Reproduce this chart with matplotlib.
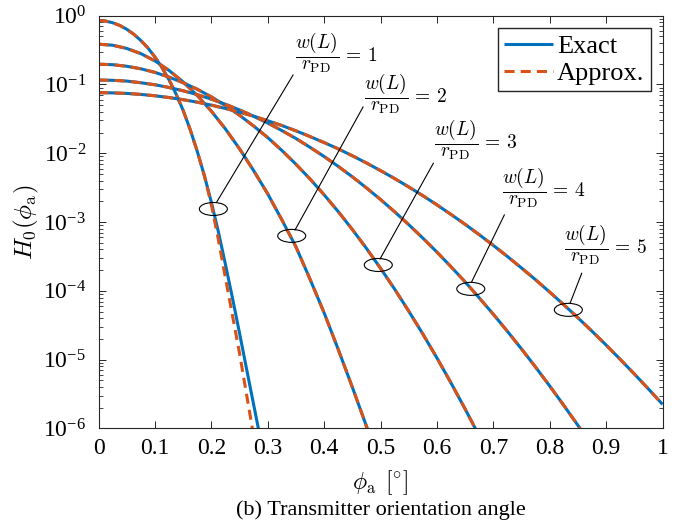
import numpy as np
import matplotlib
matplotlib.use('Agg')
import matplotlib.pyplot as plt
from matplotlib.patches import Ellipse
from matplotlib.transforms import ScaledTranslation
from matplotlib.ticker import LogLocator, NullFormatter

plt.rcParams['font.family'] = 'serif'
plt.rcParams['font.serif'] = ['Liberation Serif', 'DejaVu Serif']
plt.rcParams['mathtext.fontset'] = 'cm'

# w(L)/r_PD = 1 (exact and approx. split in the tail)
phi1 = [0, 0.0125, 0.025, 0.0375, 0.05, 0.0625, 0.075, 0.0875, 0.1, 0.1125, 0.125, 0.1375,
        0.15, 0.1625, 0.175, 0.1875, 0.2, 0.2125, 0.225, 0.2375, 0.25, 0.2625, 0.275, 0.2875]
exact1 = [0.849, 0.834, 0.790, 0.722, 0.635, 0.537, 0.436, 0.340, 0.251, 0.176, 0.117, 0.0726,
          0.0421, 0.0221, 0.0107, 4.78e-3, 1.95e-3, 7.22e-4, 2.43e-4, 7.87e-5, 2.43e-5, 7.32e-6,
          2.23e-6, 6.75e-7]
phi1a = [0, 0.0125, 0.025, 0.0375, 0.05, 0.0625, 0.075, 0.0875, 0.1, 0.1125, 0.125, 0.1375,
         0.15, 0.1625, 0.175, 0.1875, 0.2, 0.2125, 0.225, 0.2375, 0.25, 0.2625, 0.275]
approx1 = [0.849, 0.834, 0.790, 0.722, 0.635, 0.537, 0.436, 0.340, 0.251, 0.176, 0.117, 0.0726,
           0.0421, 0.0221, 0.0107, 4.78e-3, 1.80e-3, 5.56e-4, 1.55e-4, 4.37e-5, 1.24e-5, 3.11e-6,
           7.78e-7]

# w(L)/r_PD = 2
phi2 = [0, 0.025, 0.05, 0.075, 0.1, 0.125, 0.15, 0.175, 0.2, 0.225, 0.25, 0.275, 0.3,
        0.325, 0.35, 0.375, 0.4, 0.425, 0.45, 0.475, 0.5]
exact2 = [0.385, 0.372, 0.334, 0.281, 0.220, 0.160, 0.109, 0.0692, 0.0410, 0.0226, 0.0116,
          5.60e-3, 2.57e-3, 1.08e-3, 4.37e-4, 1.48e-4, 4.79e-5, 1.41e-5, 3.98e-6, 1.08e-6, 2.63e-7]
approx2 = [0.385, 0.372, 0.334, 0.281, 0.220, 0.160, 0.109, 0.0692, 0.0410, 0.0226, 0.0116,
           5.60e-3, 2.57e-3, 1.08e-3, 4.37e-4, 1.48e-4, 4.79e-5, 1.41e-5, 3.98e-6, 1.08e-6, 2.63e-7]

# w(L)/r_PD = 3
phi3 = [0, 0.025, 0.05, 0.075, 0.1, 0.125, 0.15, 0.175, 0.2, 0.225, 0.25, 0.275, 0.3, 0.325,
        0.35, 0.375, 0.4, 0.425, 0.45, 0.475, 0.5, 0.525, 0.55, 0.575, 0.6, 0.625, 0.65,
        0.675, 0.7]
exact3 = [0.197, 0.194, 0.184, 0.169, 0.150, 0.128, 0.106, 0.0853, 0.0661, 0.0494, 0.0357,
          0.0249, 0.0169, 0.0110, 6.93e-3, 4.23e-3, 2.49e-3, 1.42e-3, 7.80e-4, 4.15e-4,
          2.13e-4, 1.06e-4, 5.08e-5, 2.36e-5, 1.06e-5, 4.58e-6, 1.92e-6, 7.76e-7, 3.04e-7]
approx3 = [0.197, 0.194, 0.184, 0.169, 0.150, 0.128, 0.106, 0.0853, 0.0661, 0.0494, 0.0357,
           0.0249, 0.0169, 0.0110, 6.93e-3, 4.23e-3, 2.49e-3, 1.42e-3, 7.80e-4, 4.15e-4,
           2.13e-4, 1.06e-4, 5.08e-5, 2.36e-5, 1.06e-5, 4.58e-6, 1.92e-6, 7.76e-7, 3.04e-7]

# w(L)/r_PD = 4
phi4 = [0, 0.025, 0.05, 0.075, 0.1, 0.125, 0.15, 0.175, 0.2, 0.225, 0.25, 0.275, 0.3, 0.325,
        0.35, 0.375, 0.4, 0.425, 0.45, 0.475, 0.5, 0.525, 0.55, 0.575, 0.6, 0.625, 0.65,
        0.675, 0.7, 0.725, 0.75, 0.775, 0.8, 0.825, 0.85, 0.875]
exact4 = [0.116, 0.115, 0.112, 0.106, 0.0990, 0.0904, 0.0810, 0.0712, 0.0612, 0.0516, 0.0427,
          0.0346, 0.0275, 0.0214, 0.0164, 0.0122, 8.97e-3, 6.45e-3, 4.55e-3, 3.14e-3, 2.13e-3,
          1.41e-3, 9.18e-4, 5.85e-4, 3.66e-4, 2.24e-4, 1.35e-4, 7.91e-5, 4.57e-5, 2.58e-5,
          1.43e-5, 7.77e-6, 4.14e-6, 2.16e-6, 1.11e-6, 5.54e-7]
approx4 = [0.116, 0.115, 0.112, 0.106, 0.0990, 0.0904, 0.0810, 0.0712, 0.0612, 0.0516, 0.0427,
           0.0346, 0.0275, 0.0214, 0.0164, 0.0122, 8.97e-3, 6.45e-3, 4.55e-3, 3.14e-3, 2.13e-3,
           1.41e-3, 9.18e-4, 5.85e-4, 3.66e-4, 2.24e-4, 1.35e-4, 7.91e-5, 4.57e-5, 2.58e-5,
           1.43e-5, 7.77e-6, 4.14e-6, 2.16e-6, 1.11e-6, 5.54e-7]

# w(L)/r_PD = 5
phi5 = [0, 0.025, 0.05, 0.075, 0.1, 0.125, 0.15, 0.175, 0.2, 0.225, 0.25, 0.275, 0.3, 0.325,
        0.35, 0.375, 0.4, 0.425, 0.45, 0.475, 0.5, 0.525, 0.55, 0.575, 0.6, 0.625, 0.65,
        0.675, 0.7, 0.725, 0.75, 0.775, 0.8, 0.825, 0.85, 0.875, 0.9, 0.925, 0.95, 0.975, 1.0]
exact5 = [0.0760, 0.0755, 0.0741, 0.0717, 0.0685, 0.0646, 0.0601, 0.0553, 0.0501, 0.0448,
          0.0396, 0.0346, 0.0297, 0.0253, 0.0212, 0.0175, 0.0143, 0.0116, 9.20e-3, 7.23e-3,
          5.60e-3, 4.29e-3, 3.24e-3, 2.42e-3, 1.78e-3, 1.29e-3, 9.27e-4, 6.56e-4, 4.58e-4,
          3.16e-4, 2.15e-4, 1.45e-4, 9.59e-5, 6.28e-5, 4.06e-5, 2.59e-5, 1.63e-5, 1.01e-5,
          6.20e-6, 3.75e-6, 2.24e-6]
approx5 = [0.0760, 0.0755, 0.0741, 0.0717, 0.0685, 0.0646, 0.0601, 0.0553, 0.0501, 0.0448,
           0.0396, 0.0346, 0.0297, 0.0253, 0.0212, 0.0175, 0.0143, 0.0116, 9.20e-3, 7.23e-3,
           5.60e-3, 4.29e-3, 3.24e-3, 2.42e-3, 1.78e-3, 1.29e-3, 9.27e-4, 6.56e-4, 4.58e-4,
           3.16e-4, 2.15e-4, 1.45e-4, 9.59e-5, 6.28e-5, 4.06e-5, 2.59e-5, 1.63e-5, 1.01e-5,
           6.20e-6, 3.75e-6, 2.24e-6]

ratios = [1, 2, 3, 4, 5]
xticks = [0, 0.1, 0.2, 0.3, 0.4, 0.5, 0.6, 0.7, 0.8, 0.9, 1]
xticklabels = ['0', '0.1', '0.2', '0.3', '0.4', '0.5', '0.6', '0.7', '0.8', '0.9', '1']
yexps = [-6, -5, -4, -3, -2, -1, 0]

# circled points on each curve
mark_phi = [0.2036, 0.3425, 0.496, 0.66, 0.833]
mark_h = [1.55e-3, 6.3e-4, 2.38e-4, 1.07e-4, 5.3e-5]

blue = '#0072BD'
orange = '#D95319'
dark = '#262626'

fig = plt.figure(figsize=(6.89, 5.26), dpi=100)
ax = fig.add_axes([0.143, 0.1854, 0.8186, 0.7848])

curves = [(phi1, exact1, phi1a, approx1), (phi2, exact2, phi2, approx2),
          (phi3, exact3, phi3, approx3), (phi4, exact4, phi4, approx4),
          (phi5, exact5, phi5, approx5)]
for px, ex, pa, ap in curves:
    le, = ax.plot(px, ex, color=blue, lw=2.2, solid_capstyle='butt', solid_joinstyle='round')
    la, = ax.plot(pa, ap, color=orange, lw=2.2, dashes=(3.3, 2.0))

ax.set_yscale('log')
ax.set_xlim(0, 1)
ax.set_ylim(1e-6, 1)
ax.set_xticks(xticks)
ax.set_xticklabels(xticklabels)
ax.set_yticks([10.0 ** e for e in yexps])
ax.set_yticklabels(['$\\mathregular{10^{%d}}$' % e for e in yexps])
ax.yaxis.set_minor_locator(LogLocator(base=10, subs=np.arange(2, 10)))
ax.yaxis.set_minor_formatter(NullFormatter())

ax.tick_params(which='both', direction='in', top=True, right=True, colors=dark, labelcolor='black')
ax.tick_params(axis='x', which='major', length=5, width=0.7, labelsize=17, pad=7)
ax.tick_params(axis='y', which='major', length=5, width=0.7, labelsize=17, pad=9)
ax.tick_params(axis='y', which='minor', length=3, width=0.6)
for s in ax.spines.values():
    s.set_color(dark)
    s.set_linewidth(0.8)

ax.set_xlabel('$\\phi_{\\mathrm{a}}\\;\\,[^{\\circ}]$', fontsize=17, va='center')
ax.xaxis.set_label_coords(0.5, -0.132)
ax.set_ylabel('$H_0(\\phi_{\\mathrm{a}})$', fontsize=18, va='center')
ax.yaxis.set_label_coords(-0.1285, 0.5)

ax.legend([le, la], ['Exact', 'Approx.'], loc='upper right', bbox_to_anchor=(0.9796, 0.970),
          fontsize=19, frameon=True, fancybox=False, edgecolor=dark, framealpha=1,
          handlelength=1.85, handletextpad=0.15, borderpad=0.25, labelspacing=0.12,
          borderaxespad=0)

# ellipses around the marked points, sized in inches
for xm, ym in zip(mark_phi, mark_h):
    tr = fig.dpi_scale_trans + ScaledTranslation(xm, ym, ax.transData)
    ax.add_patch(Ellipse((0, 0), 0.28, 0.13, transform=tr, fill=False, ec='black', lw=0.8, zorder=5))

# leader lines (axes fraction) and labels
leaders = [((0.2096, 0.5487), (0.3449, 0.8563)),
           ((0.3484, 0.4809), (0.4690, 0.7788)),
           ((0.4991, 0.4106), (0.5936, 0.6424)),
           ((0.6617, 0.3556), (0.7195, 0.5172)),
           ((0.8360, 0.3033), (0.8567, 0.3760))]
label_pos = [(0.4215, 0.9104), (0.5443, 0.8096), (0.6685, 0.6989), (0.7890, 0.5819), (0.8990, 0.4445)]
for (p0, p1), (tx, ty), k in zip(leaders, label_pos, ratios):
    ax.plot([p0[0], p1[0]], [p0[1], p1[1]], color='black', lw=0.8, transform=ax.transAxes)
    ax.text(tx, ty, '$\\dfrac{w(L)}{r_{\\mathrm{PD}}}\\,=\\,%d$' % k, transform=ax.transAxes,
            ha='center', va='center', fontsize=14)

fig.text(380.5 / 689, 1 - 510 / 526, '(b) Transmitter orientation angle',
         ha='center', va='center', fontsize=16)

fig.savefig('out.png', dpi=100)
